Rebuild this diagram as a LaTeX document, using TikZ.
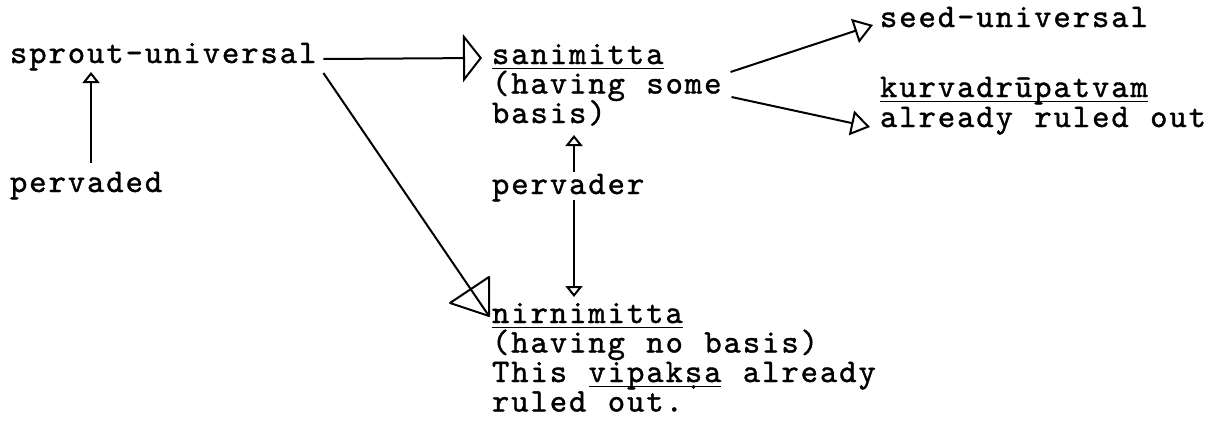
\documentclass[tikz,border=0pt]{standalone}
\usepackage{fontspec}
\usetikzlibrary{arrows.meta,calc}
% typewriter face: slightly heavier strokes and a little extra tracking
\newfontfamily\typewriter{lmmono10-regular.otf}[LetterSpace=5.9, WordSpace=1.11, FakeBold=1.2]
% underline a word with a heavy typewriter-style rule
\newcommand{\ulword}[1]{\setbox0\hbox{#1}\rlap{\rule[-5pt]{\wd0}{1.5pt}}\box0\relax}
\tikzset{
  txt/.style={anchor=base west, inner sep=0pt, outer sep=0pt,
    font=\typewriter\fontsize{33}{29.5}\selectfont},
  link/.style={line width=2pt, line join=round},
  smalltip/.style={-{Triangle[open,length=11pt,width=17pt]}},
  midtip/.style={-{Triangle[open,length=19pt,width=25pt]}},
  bigtip/.style={-{Triangle[open,length=19pt,width=48pt]}},
}
\begin{document}
\begin{tikzpicture}[x=1pt,y=-1pt]
\useasboundingbox (0,0) rectangle (1225,426);

% text blocks
\node[txt] (sprout)   at (10,63)    {sprout-universal};
\node[txt] (pervaded) at (10,192)   {pervaded};
\node[txt] (sani)     at (492,64)   {\ulword{sanimitta}};
\node[txt] (sani2)    at (492,93.5) {(having some};
\node[txt] (sani3)    at (492,123)  {basis)};
\node[txt] (pervader) at (492,194)  {pervader};
\node[txt] (seed)     at (880,27)   {seed-universal};
\node[txt] (kurva)    at (880,97)   {\ulword{kurvadrūpatvam}};
\node[txt] (kurva2)   at (880,127)  {already ruled out};
\node[txt] (nirni)    at (492,323)  {\ulword{nirnimitta}};
\node[txt] (nirni2)   at (492,352.5){(having no basis)};
\node[txt] (nirni3)   at (492,382)  {This \ulword{vipakṣa} already};
\node[txt] (nirni4)   at (492,411.5){ruled out.};

% connectors
\draw[link,smalltip] ($(pervaded.base west)+(81,-29)$) -- ($(sprout.base west)+(81,9)$);
\draw[link,bigtip]   ($(sprout.base east)+(7,-4)$) -- ($(sani.base west)+(-10,-6)$);
\draw[link]          ($(sprout.base east)+(7,10)$) -- ($(nirni.base west)+(-3,-7)$);
\draw[link] ($(nirni.base west)+(-3,-46)$) -- ($(nirni.base west)+(-42,-20)$)
            -- ($(nirni.base west)+(-3,-7)$) -- cycle;
\draw[link,midtip]   ($(sani2.base east)+(9,-21.5)$) -- ($(seed.base west)+(-7,-2)$);
\draw[link,midtip]   ($(sani2.base east)+(10,3.5)$) -- ($(kurva2.base west)+(-10,0)$);
\draw[link,smalltip] ($(pervader.base west)+(82,-22)$) -- ($(sani3.base west)+(82,12)$);
\draw[link,smalltip] ($(pervader.base west)+(82,6)$) -- ($(nirni.base west)+(82,-26)$);
\end{tikzpicture}
\end{document}
